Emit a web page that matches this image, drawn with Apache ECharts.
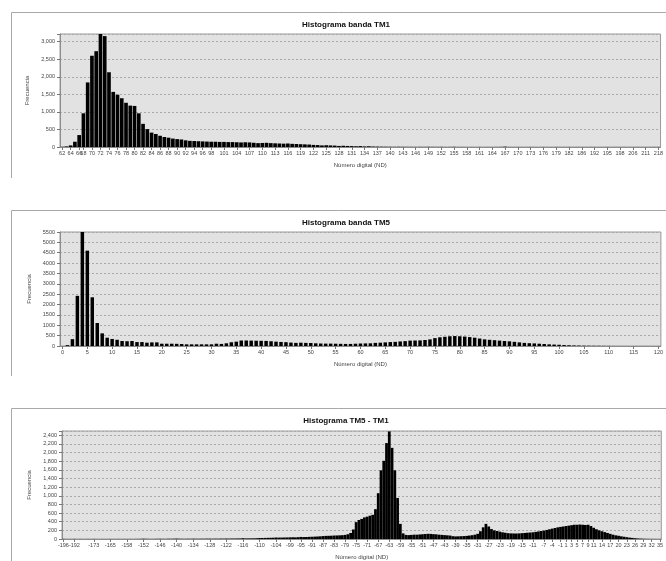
<!DOCTYPE html>
<html>
<head>
<meta charset="utf-8">
<script src="https://cdn.jsdelivr.net/npm/echarts@6/dist/echarts.min.js"></script>
<style>
  html, body { margin: 0; padding: 0; background: #fff; }
  #main { width: 666px; height: 561px; }
</style>
</head>
<body>
<div id="main"></div>
<script>
// ---- Histograma banda TM1 ----
const tm1Cats = [62, 63, 64, 65, 66, 68, 69, 70, 71, 72, 73, 74, 75, 76, 77, 78, 79, 80, 81, 82,
  83, 84, 85, 86, 87, 88, 89, 90, 91, 92, 93, 94, 95, 96, 97, 98, 99, 100, 101, 102,
  103, 104, 105, 106, 107, 108, 109, 110, 111, 112, 113, 114, 115, 116, 117, 118, 119, 120, 121, 122,
  123, 124, 125, 126, 127, 128, 129, 130, 131, 132, 133, 134, 135, 136, 137, 138, 139, 140, 141, 142,
  143, 144, 145, 146, 147, 148, 149, 150, 151, 152, 153, 154, 155, 156, 157, 158, 159, 160, 161, 162,
  163, 164, 165, 166, 167, 168, 169, 170, 171, 172, 173, 174, 175, 176, 177, 178, 179, 180, 181, 182,
  183, 184, 186, 188, 190, 192, 193, 194, 195, 196, 197, 198, 200, 203, 206, 208, 210, 211, 213, 215, 218];
const tm1Freq = [5, 15, 45, 150, 340, 960, 1840, 2600, 2730, 3220, 3160, 2130, 1570, 1490, 1390, 1260, 1180, 1170, 960, 660,
  510, 410, 370, 320, 285, 265, 240, 225, 215, 190, 175, 170, 165, 160, 155, 150, 150, 145, 145, 140,
  140, 135, 130, 135, 130, 120, 110, 115, 120, 110, 105, 100, 95, 100, 90, 85, 80, 75, 70, 60,
  55, 45, 50, 45, 40, 30, 35, 30, 25, 20, 25, 15, 20, 12, 10, 8, 6, 5, 4, 6,
  4, 3, 3, 2, 3, 2, 4, 3, 2, 3, 1, 2, 4, 1, 1, 0, 1, 0, 1, 0,
  1, 0, 1, 2, 8, 1, 0, 1, 0, 0, 1, 0, 0, 1, 0, 0, 1, 0, 0, 1,
  0, 1, 0, 0, 1, 0, 0, 0, 1, 0, 0, 0, 1, 0, 0, 1, 0, 0, 0, 1, 1];
const tm1Ticks = [62, 64, 66, 68, 70, 72, 74, 76, 78, 80, 82, 84, 86, 88, 90, 92, 94, 96, 98,
  101, 104, 107, 110, 113, 116, 119, 122, 125, 128, 131, 134, 137, 140, 143, 146, 149, 152, 155,
  158, 161, 164, 167, 170, 173, 176, 179, 182, 186, 192, 195, 198, 206, 211, 218];

// ---- Histograma banda TM5 ----
const tm5Cats = [0, 1, 2, 3, 4, 5, 6, 7, 8, 9, 10, 11, 12, 13, 14, 15, 16, 17, 18, 19,
  20, 21, 22, 23, 24, 25, 26, 27, 28, 29, 30, 31, 32, 33, 34, 35, 36, 37, 38, 39,
  40, 41, 42, 43, 44, 45, 46, 47, 48, 49, 50, 51, 52, 53, 54, 55, 56, 57, 58, 59,
  60, 61, 62, 63, 64, 65, 66, 67, 68, 69, 70, 71, 72, 73, 74, 75, 76, 77, 78, 79,
  80, 81, 82, 83, 84, 85, 86, 87, 88, 89, 90, 91, 92, 93, 94, 95, 96, 97, 98, 99,
  100, 101, 102, 103, 104, 105, 106, 107, 108, 109, 110, 111, 112, 113, 114, 115, 116, 117, 118, 119, 120];
const tm5Freq = [0, 40, 330, 2420, 5500, 4600, 2350, 1110, 610, 400, 340, 300, 240, 230, 240, 190, 190, 160, 175, 175,
  110, 110, 110, 105, 95, 80, 80, 80, 80, 80, 80, 110, 100, 130, 180, 210, 265, 265, 260, 255,
  250, 245, 230, 210, 195, 185, 165, 150, 160, 150, 145, 130, 120, 115, 115, 110, 105, 100, 100, 110,
  120, 125, 130, 150, 160, 175, 190, 200, 220, 235, 260, 265, 270, 290, 320, 380, 420, 445, 470, 480,
  470, 455, 430, 400, 360, 320, 300, 280, 260, 240, 225, 200, 175, 150, 135, 125, 110, 95, 80, 70,
  60, 45, 35, 25, 20, 15, 12, 10, 8, 6, 4, 2, 1, 1, 0, 1, 0, 0, 0, 0, 0];
const tm5Ticks = [0, 5, 10, 15, 20, 25, 30, 35, 40, 45, 50, 55, 60, 65, 70, 75, 80, 85, 90, 95, 100, 105, 110, 115, 120];

// ---- Histograma TM5 - TM1 ----
const diffCats = [-196, -195, -194, -193, -192, -189, -186, -183, -180, -177, -175,
  -173, -172, -171, -169, -168, -166, -165, -164, -163, -162, -160, -159,
  -158, -157, -156, -155, -154, -153, -152, -151, -150, -149,
  -148, -147, -146, -145, -144, -143, -142, -141, -140, -139,
  -138, -137, -136, -135, -134, -133, -132, -131, -130, -129,
  -128, -127, -126, -125, -124, -123, -122, -121, -120, -119,
  -118, -117, -116, -115, -114, -113, -112, -111, -110, -109,
  -108, -107, -106, -105, -104, -103, -102, -101, -100, -99,
  -98, -97, -96, -95, -94, -93, -92, -91, -90, -89,
  -88, -87, -86, -85, -84, -83, -82, -81, -80, -79,
  -78, -77, -76, -75, -74, -73, -72, -71, -70, -69,
  -68, -67, -66, -65, -64, -63, -62, -61, -60, -59,
  -58, -57, -56, -55, -54, -53, -52, -51, -50, -49,
  -48, -47, -46, -45, -44, -43, -42, -41, -40, -39,
  -38, -37, -36, -35, -34, -33, -32, -31, -30, -29,
  -28, -27, -26, -25, -24, -23, -22, -21, -20, -19,
  -18, -17, -16, -15, -14, -13, -12, -11, -10, -9,
  -8, -7, -6, -5, -4, -3, -2, -1, 0, 1,
  2, 3, 4, 5, 6, 7, 8, 9, 10, 11,
  12, 13, 14, 15, 16, 17, 18, 19, 20, 21,
  22, 23, 24, 25, 26, 27, 28, 29, 30, 31,
  32, 33, 34, 35];
const diffFreq = [2, 0, 0, 0, 1, 0, 1, 0, 0, 1, 0,
  1, 0, 0, 1, 0, 0, 1, 0, 0, 1, 0, 1,
  0, 1, 0, 1, 2, 3, 6, 3, 2, 1,
  2, 3, 4, 3, 2, 5, 4, 6, 8, 5,
  4, 3, 5, 4, 6, 5, 4, 6, 5, 7,
  6, 5, 7, 6, 8, 7, 9, 8, 10, 9,
  11, 12, 18, 12, 13, 14, 15, 17, 22, 24,
  25, 27, 28, 30, 34, 32, 33, 35, 36, 38,
  40, 38, 42, 48, 45, 46, 50, 52, 55, 58,
  62, 68, 72, 74, 76, 80, 82, 85, 88, 95,
  110, 140, 220, 390, 440, 465, 500, 517, 540, 560,
  690, 1060, 1590, 1810, 2220, 2490, 2110, 1590, 950, 350,
  130, 95, 90, 95, 100, 100, 105, 110, 115, 120,
  118, 112, 108, 100, 95, 90, 85, 80, 65, 60,
  62, 65, 68, 72, 80, 88, 100, 120, 180, 270,
  350, 290, 230, 200, 185, 170, 155, 145, 135, 130,
  128, 127, 130, 135, 140, 145, 150, 155, 165, 175,
  185, 195, 210, 225, 240, 255, 270, 280, 290, 300,
  310, 320, 330, 330, 335, 330, 325, 330, 300, 260,
  225, 200, 180, 160, 140, 120, 100, 85, 75, 62,
  52, 42, 32, 25, 18, 12, 8, 5, 3, 2,
  1, 1, 0, 1];
const diffTicks = [-196, -192, -173, -165, -158, -152, -146, -140, -134, -128, -122, -116, -110, -104,
  -99, -95, -91, -87, -83, -79, -75, -71, -67, -63, -59, -55, -51, -47, -43, -39, -35, -31, -27,
  -23, -19, -15, -11, -7, -4, -1, 1, 3, 5, 7, 9, 11, 14, 17, 20, 23, 26, 29, 32, 35];

const titles = ['Histograma banda TM1', 'Histograma banda TM5', 'Histograma TM5 - TM1'];

const FONT = '"Liberation Sans", Arial, sans-serif';

// panel boxes (top y) and grids
const panelTop = [12, 210, 408];
const grids = [
  {left: 60, right: 4, top: 34, height: 113},
  {left: 60, right: 4, top: 232, height: 114},
  {left: 62, right: 4, top: 431, height: 111}
];

function tickFilter(ticks) {
  const s = new Set(ticks.map(String));
  return (idx, val) => s.has(String(val));
}

function xAxisOf(i, cats, ticks) {
  const f = tickFilter(ticks);
  return {
    type: 'category', gridIndex: i, data: cats.map(String),
    axisLine: {show: true, lineStyle: {color: '#8c8c8c', width: 1}},
    axisTick: {show: true, alignWithLabel: true, interval: f, length: 3, lineStyle: {color: '#777'}},
    axisLabel: {interval: f, fontSize: 5.5, color: '#444', margin: 3, fontFamily: FONT},
    splitLine: {show: false},
    name: 'Número digital (ND)', nameLocation: 'middle', nameGap: 15,
    nameTextStyle: {fontSize: 6, color: '#444', fontFamily: FONT}
  };
}

function yAxisOf(i, max, step, comma) {
  return {
    type: 'value', gridIndex: i, min: 0, max: max, interval: step,
    axisLine: {show: true, lineStyle: {color: '#8c8c8c'}},
    axisTick: {show: true, length: 3, lineStyle: {color: '#777'}},
    axisLabel: {
      fontSize: 5.5, color: '#444', margin: 5, fontFamily: FONT,
      formatter: v => (v % step !== 0) ? '' : (comma ? v.toLocaleString('en-US') : String(v))
    },
    splitLine: {show: true, lineStyle: {color: '#a9a9a9', type: [2, 2], width: 1}},
    name: 'Frecuencia', nameLocation: 'middle', nameGap: 18, nameRotate: 90,
    nameTextStyle: {fontSize: 6, color: '#444', fontFamily: FONT}
  };
}

const graphic = [];
panelTop.forEach((t, i) => {
  graphic.push({
    type: 'polyline', silent: true,
    shape: {points: [[11.5, t + 166], [11.5, t + 0.5], [666, t + 0.5]]},
    style: {stroke: '#a8a8a8', lineWidth: 1, fill: null}
  });
  graphic.push({
    type: 'text', silent: true,
    style: {
      text: titles[i], x: 346, y: t + 13, textAlign: 'center', textVerticalAlign: 'middle',
      font: 'bold 8px ' + FONT, fill: '#111'
    }
  });
});

const chart = echarts.init(document.getElementById('main'));
chart.setOption({
  animation: false,
  backgroundColor: '#fff',
  grid: grids.map(g => Object.assign({show: true, backgroundColor: '#e2e2e2', borderColor: '#9a9a9a', borderWidth: 1}, g)),
  xAxis: [
    xAxisOf(0, tm1Cats, tm1Ticks),
    xAxisOf(1, tm5Cats, tm5Ticks),
    xAxisOf(2, diffCats, diffTicks)
  ],
  yAxis: [
    yAxisOf(0, 3220, 500, true),
    yAxisOf(1, 5500, 500, false),
    yAxisOf(2, 2500, 200, true)
  ],
  series: [
    {type: 'bar', xAxisIndex: 0, yAxisIndex: 0, data: tm1Freq, barCategoryGap: '14%', itemStyle: {color: '#000'}},
    {type: 'bar', xAxisIndex: 1, yAxisIndex: 1, data: tm5Freq, barCategoryGap: '30%', itemStyle: {color: '#000'}},
    {type: 'bar', xAxisIndex: 2, yAxisIndex: 2, data: diffFreq, barCategoryGap: '0%', itemStyle: {color: '#000'}}
  ],
  graphic: graphic
});
</script>
</body>
</html>
